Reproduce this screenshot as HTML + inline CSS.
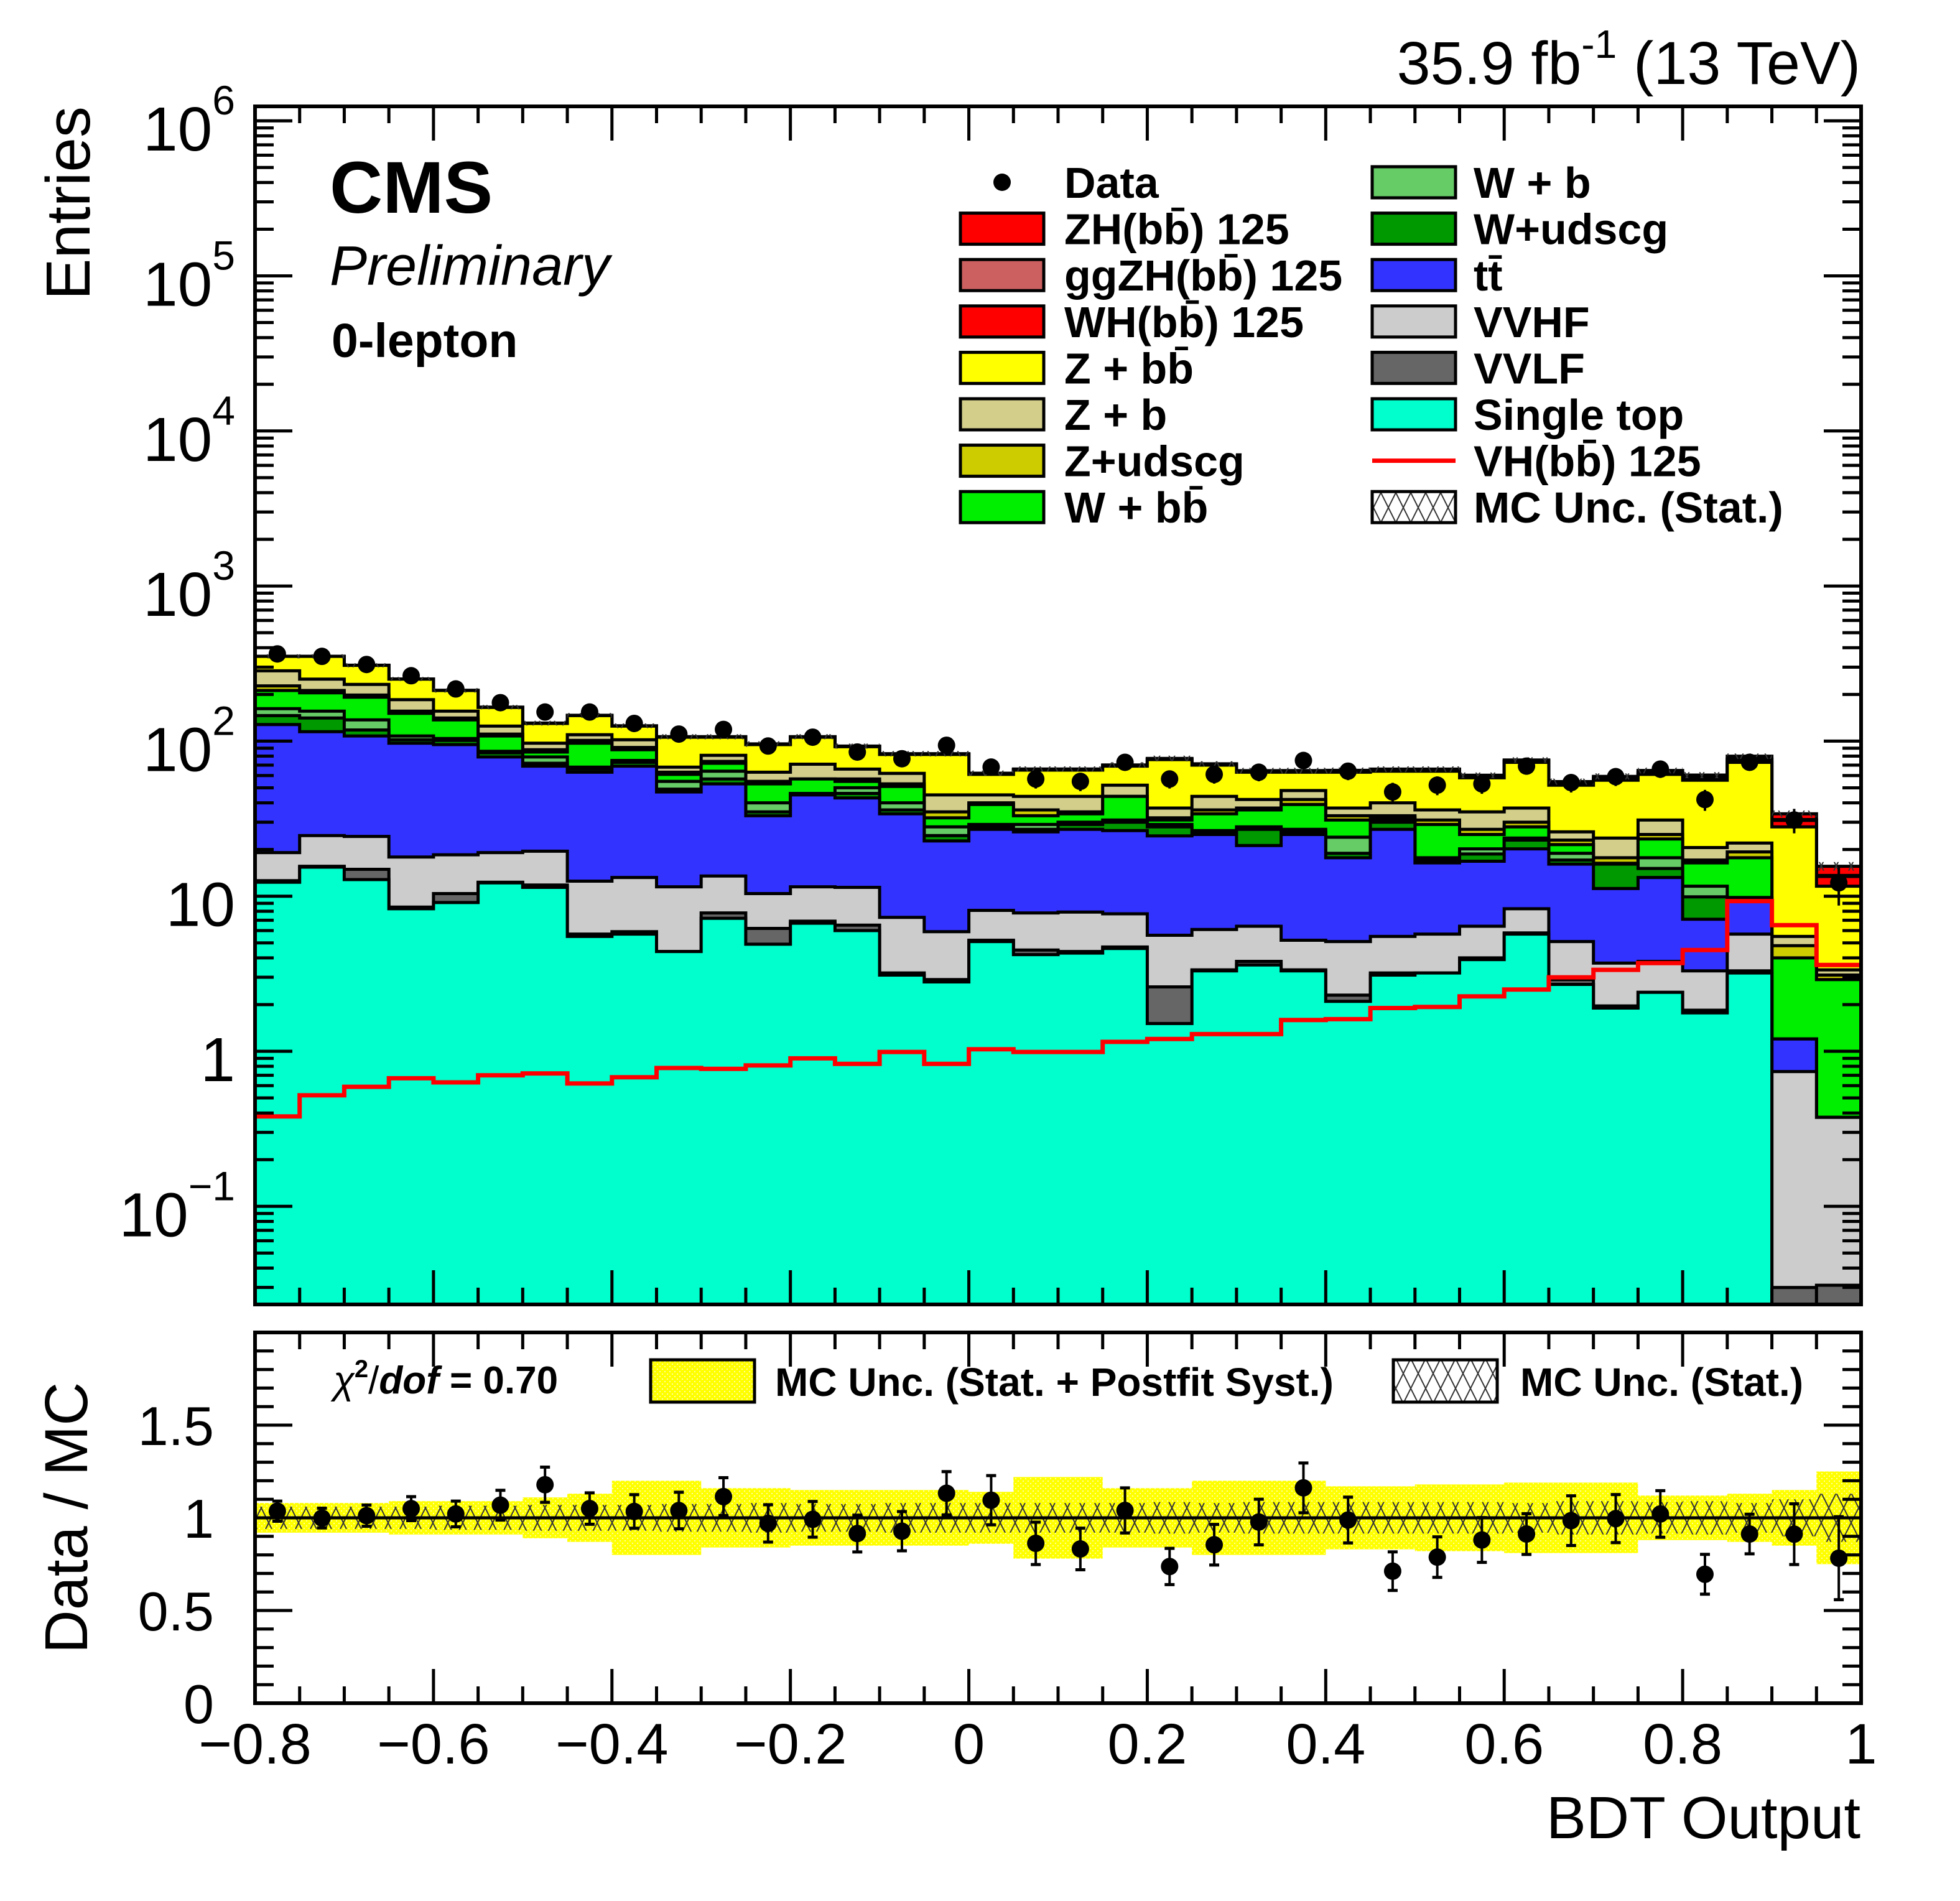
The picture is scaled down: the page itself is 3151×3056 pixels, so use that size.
<!DOCTYPE html>
<html><head><meta charset="utf-8"><title>CMS BDT Output 0-lepton</title>
<style>html,body{margin:0;padding:0;background:#fff}svg{display:block}text{font-family:"Liberation Sans",Arial,sans-serif}</style>
</head><body>
<svg id="chart" xmlns="http://www.w3.org/2000/svg" width="3151" height="3056" viewBox="0 0 3151 3056">
<defs>
<clipPath id="clipMain"><rect x="410" y="171" width="2582" height="1926"/></clipPath>
<clipPath id="clipRatio"><rect x="410" y="2142" width="2582" height="596"/></clipPath>
<pattern id="hatch" patternUnits="userSpaceOnUse" width="24" height="48">
<path d="M0,0 L24,48 M24,0 L0,48" stroke="#333" stroke-width="2" fill="none"/>
</pattern>
<pattern id="yellowDots" patternUnits="userSpaceOnUse" width="8" height="8">
<rect width="8" height="8" fill="#ffff00"/><rect x="0" y="0" width="2" height="2" fill="#ffffa0"/><rect x="4" y="4" width="2" height="2" fill="#ffffa0"/>
</pattern>
</defs>
<rect width="3151" height="3056" fill="#fff"/>
<g id="mainLayers" clip-path="url(#clipMain)"></g>
<g id="ratioLayers" clip-path="url(#clipRatio)"></g>
<g id="axes"></g>
<g id="texts">
<text x="2991" y="135" font-size="97" text-anchor="end">35.9 fb<tspan dy="-42" font-size="64">-1</tspan><tspan dy="42"> (13 TeV)</tspan></text>
<text x="530" y="342" font-size="118" font-weight="bold">CMS</text>
<text x="530" y="458" font-size="90" font-style="italic">Preliminary</text>
<text x="533" y="574" font-size="77" font-weight="bold">0-lepton</text>
<text transform="translate(144,171) rotate(-90)" font-size="100" text-anchor="end">Entries</text>
<text transform="translate(140,2440) rotate(-90)" font-size="97" text-anchor="middle">Data / MC</text>
<text x="2991" y="2955" font-size="96" text-anchor="end">BDT Output</text>
<text x="536" y="2240" font-size="62" font-weight="bold"><tspan font-weight="normal" font-style="italic">χ</tspan><tspan dy="-26" font-size="40">2</tspan><tspan dy="26" font-weight="normal">/</tspan><tspan font-style="italic">dof</tspan> = 0.70</text>
</g>
<g id="legend"></g>
</svg>
<script>
// ---- data (entries per bin, cumulative stack tops) ----
const binEdgesStart = -0.8;
const binWidth = 0.05;
const cumSingleTop = [12.3,15.4,12.8,8.3,9.1,12.2,11.4,5.5,5.7,4.4,7.2,4.9,6.7,6.0,3.1,2.8,5.1,4.2,4.3,4.6,1.51,3.3,3.6,3.3,2.1,3.1,3.2,3.9,5.7,2.7,1.9,2.4,1.77,3.2,0.001,0.001];
const cumVVLF = [12.6,15.6,14.9,8.5,10.4,12.3,11.8,5.7,5.9,4.4,7.8,6.2,6.9,6.5,3.2,2.9,5.2,4.5,4.4,4.7,2.6,3.35,3.8,3.35,2.3,3.2,3.2,4.0,5.8,2.9,1.96,2.4,1.84,3.3,0.030,0.031];
const cumVVHF = [19.1,24.6,24.3,17.9,18.5,19.1,19.5,12.5,13.2,11.5,13.5,10.4,11.5,11.4,7.3,5.9,8.1,7.8,7.9,7.7,5.6,6.1,6.4,5.2,5.1,5.5,5.7,6.4,8.3,5.1,3.7,3.8,3.3,5.7,0.74,0.375];
const cumTT = [128,115,108,97,95,79,69,63,69,47,53,33,45,43,34,22.7,27,26,27,26.5,24.5,25,21.2,25,17.7,27,16.4,16.8,20.2,16.1,11.2,13.2,7.1,9.3,1.2,0.375];
const cumWudscg = [146,141,118,102,101,84,72,66,73,49,57,35,46,46,36,24.6,28,27,29,30,28,26,27,26,18.9,30,17.1,18.7,23,17.1,16.1,15.1,9.9,9.8,1.2,0.375];
const cumWb = [162,156,137,108,104,86,79,68,75,55,64,40,46,50,40,28,29,29,30,31,29,26.5,28,27,24,31,17.7,20.2,23.7,18.9,16.1,17.7,11.6,9.8,1.2,0.375];
const cumWbb = [212,205,192,151,137,108,85,97,88,61,72,53,57,55,51,32,39,33,34,44,31,34,36,39,31,32,29,25,28,21.5,16.3,23.4,16.4,17.7,4.0,2.9];
const cumZudscg = [227,212,198,156,141,111,88,101,91,63,74,55,57,57,53,35,40,36,35,44,32,36,37,42,33,33,31,27,30,23,17.7,25,17.1,19.3,4.8,3.1];
const cumZb = [284,251,232,185,156,125,97,110,102,68,81,63,71,66,62,45,45,44,44,52,37,44,42,48,37,40,36,35,37,26,23.7,31,20.6,22,5.5,3.35];
const cumZbb = [352,352,308,251,212,165,130,146,125,106,106,95,106,92,82,82,61,65,65,69,76,70,63,63,63,64,64,58,73,52,56,61,56,73,28,11.6];
const sigWH = [0.15,0.2,0.2,0.25,0.25,0.3,0.3,0.3,0.3,0.35,0.35,0.4,0.4,0.4,0.45,0.45,0.5,0.5,0.5,0.55,0.6,0.6,0.65,0.7,0.8,0.9,0.9,1.0,1.2,1.3,1.5,1.7,2.0,3.2,2.8,1.8];
const sigGGZH = [0.02,0.02,0.02,0.03,0.03,0.03,0.03,0.03,0.03,0.04,0.04,0.04,0.04,0.04,0.05,0.05,0.05,0.05,0.05,0.06,0.06,0.06,0.07,0.07,0.08,0.09,0.09,0.1,0.12,0.13,0.15,0.17,0.2,0.4,0.4,0.2];
const sigZH = [0.2,0.25,0.25,0.3,0.3,0.35,0.35,0.35,0.35,0.4,0.4,0.45,0.45,0.45,0.5,0.5,0.55,0.55,0.55,0.6,0.65,0.7,0.75,0.8,0.9,1.0,1.0,1.1,1.3,1.4,1.6,1.8,2.2,3.4,2.8,2.0];
const vhLine = [0.38,0.52,0.59,0.67,0.63,0.70,0.72,0.62,0.68,0.78,0.77,0.81,0.90,0.83,0.99,0.83,1.03,0.99,0.99,1.15,1.2,1.29,1.29,1.59,1.61,1.9,1.93,2.26,2.5,3.0,3.35,3.7,4.5,9.3,6.5,3.6];
const dataCounts = [365,352,312,264,217,177,154,154,130,111,119,93,106,85,77,94,68,57,55,73,57,61,63,75,64,47,52,53,69,54,59,66,42,73,31,12.2];
const systBand = [0.08,0.08,0.08,0.09,0.09,0.09,0.11,0.13,0.2,0.2,0.16,0.16,0.15,0.15,0.15,0.15,0.14,0.22,0.22,0.16,0.16,0.2,0.2,0.2,0.17,0.17,0.18,0.18,0.19,0.19,0.19,0.12,0.12,0.13,0.15,0.25];
const statBand = [0.06,0.06,0.06,0.06,0.065,0.065,0.07,0.07,0.07,0.075,0.075,0.08,0.075,0.075,0.08,0.08,0.08,0.08,0.08,0.08,0.085,0.08,0.085,0.085,0.085,0.085,0.085,0.085,0.08,0.09,0.09,0.085,0.09,0.08,0.1,0.13];
const xTickLabels = ["\u22120.8","\u22120.6","\u22120.4","\u22120.2","0","0.2","0.4","0.6","0.8","1"];
const xTickValues = [-0.8,-0.6,-0.4,-0.2,0,0.2,0.4,0.6,0.8,1.0];
const yLogExps = [-1,0,1,2,3,4,5,6];
const ratioTickValues = [0,0.5,1,1.5];
const ratioTickLabels = ["0","0.5","1","1.5"];

// ---- axes ----
const NS = "http://www.w3.org/2000/svg";
const X0 = 410, X1 = 2992, XMIN = -0.8, XMAX = 1.0;
const MY_TOP = 171, MY_BOT = 2097, LOG_ONE = 1690, DECADE = 249.3;
const RY_TOP = 2142, RY_BOT = 2738, RMAX = 2.0;
function xs(v){ return X0 + (v - XMIN) / (XMAX - XMIN) * (X1 - X0); }
function ys(v){ if (v <= 0) return MY_BOT + 50; const y = LOG_ONE - DECADE * Math.log10(v); return Math.min(y, MY_BOT + 50); }
function yr(r){ return RY_BOT - r / RMAX * (RY_BOT - RY_TOP); }
function mk(tag, attrs, parent){ const e = document.createElementNS(NS, tag); for (const k in attrs) e.setAttribute(k, attrs[k]); parent.appendChild(e); return e; }
const nb = dataCounts.length;
function edge(i){ return binEdgesStart + i * binWidth; }

const gMain = document.getElementById('mainLayers');
const gRatio = document.getElementById('ratioLayers');
const gAxes = document.getElementById('axes');
const gLeg = document.getElementById('legend');

const cumWH = cumZbb.map((v,i)=> v + sigWH[i]);
const cumGGZH = cumWH.map((v,i)=> v + sigGGZH[i]);
const cumZH = cumGGZH.map((v,i)=> v + sigZH[i]);

const layers = [
  ['stack-zh', cumZH, '#ff0000'],
  ['stack-ggzh', cumGGZH, '#cc6060'],
  ['stack-wh', cumWH, '#ff0000'],
  ['stack-z-bb', cumZbb, '#ffff00'],
  ['stack-z-b', cumZb, '#d3cf8b'],
  ['stack-z-udscg', cumZudscg, '#cccc00'],
  ['stack-w-bb', cumWbb, '#00ee00'],
  ['stack-w-b', cumWb, '#66cc66'],
  ['stack-w-udscg', cumWudscg, '#009900'],
  ['stack-ttbar', cumTT, '#3333ff'],
  ['stack-vvhf', cumVVHF, '#cccccc'],
  ['stack-vvlf', cumVVLF, '#666666'],
  ['stack-single-top', cumSingleTop, '#00ffcc']
];
function stepPts(arr){
  let p = [];
  for (let i=0;i<nb;i++){ const y = ys(arr[i]); p.push(xs(edge(i)).toFixed(1)+','+y.toFixed(1)); p.push(xs(edge(i+1)).toFixed(1)+','+y.toFixed(1)); }
  return p;
}
layers.forEach(([name, arr, col])=>{
  const pts = stepPts(arr);
  const poly = mk('polygon', {points: xs(XMIN)+','+(MY_BOT+50)+' '+pts.join(' ')+' '+xs(XMAX)+','+(MY_BOT+50), fill: col, stroke: 'none'}, gMain);
  
  
  const line = mk('polyline', {points: pts.join(' '), fill: 'none', stroke: '#000', 'stroke-width': 5}, gMain);
  
  
});
for (let i=0;i<nb;i++){
  const t = cumZH[i], s = statBand[i]*0.5;
  const r = mk('rect', {x: xs(edge(i)), y: ys(t*(1+s)), width: xs(edge(i+1))-xs(edge(i)), height: ys(t*(1-s))-ys(t*(1+s)), fill: 'url(#hatch)'}, gMain);
  
  
}
{
  const l = mk('polyline', {points: stepPts(vhLine).join(' '), fill: 'none', stroke: '#ff0000', 'stroke-width': 7}, gMain);
  
  
}
for (let i=0;i<nb;i++){
  const cx = xs(edge(i) + binWidth/2), n = dataCounts[i], e = Math.sqrt(n);
  const eb = mk('line', {x1: cx, x2: cx, y1: ys(n+e), y2: ys(Math.max(n-e,1e-3)), stroke: '#000', 'stroke-width': 4}, gMain);
  
  
  const c = mk('circle', {cx: cx, cy: ys(n), r: 14, fill: '#000'}, gMain);
  
  
}
// ratio panel
for (let i=0;i<nb;i++){
  const xa = xs(edge(i)), w = xs(edge(i+1)) - xa;
  const y1 = mk('rect', {x: xa, y: yr(1+systBand[i]), width: w, height: yr(1-systBand[i]) - yr(1+systBand[i]), fill: 'url(#yellowDots)'}, gRatio);
  
  
}
for (let i=0;i<nb;i++){
  const xa = xs(edge(i)), w = xs(edge(i+1)) - xa;
  const h = mk('rect', {x: xa, y: yr(1+statBand[i]), width: w, height: yr(1-statBand[i]) - yr(1+statBand[i]), fill: 'url(#hatch)'}, gRatio);
  
  
}
{
  const one = mk('line', {x1: X0, x2: X1, y1: yr(1), y2: yr(1), stroke: '#000', 'stroke-width': 5}, gRatio);
  
  
}
for (let i=0;i<nb;i++){
  const cx = xs(edge(i) + binWidth/2), mc = cumZH[i], r = dataCounts[i]/mc, e = Math.sqrt(dataCounts[i])/mc;
  const eb = mk('line', {x1: cx, x2: cx, y1: yr(r+e), y2: yr(r-e), stroke: '#000', 'stroke-width': 4}, gRatio);
  
  
  [r+e, r-e].forEach(v=>{
    const cap = mk('line', {x1: cx-8, x2: cx+8, y1: yr(v), y2: yr(v), stroke: '#000', 'stroke-width': 5}, gRatio);
    
    
  });
  const c = mk('circle', {cx: cx, cy: yr(r), r: 14, fill: '#000'}, gRatio);
  
  
}

function tick(x1,y1,x2,y2,name){ const t = mk('line', {x1:x1,y1:y1,x2:x2,y2:y2,stroke:'#000','stroke-width':5}, gAxes);   }
[[MY_TOP, MY_BOT, 'main-frame'], [RY_TOP, RY_BOT, 'ratio-frame']].forEach(([t,b,nm])=>{
  const f = mk('rect', {x: X0, y: t, width: X1-X0, height: b-t, fill: 'none', stroke: '#000', 'stroke-width': 6}, gAxes);
  
  
  for (let k=0;k<=36;k++){
    const v = edge(k), x = xs(v);
    const major = Math.abs(Math.round(v*5) - v*5) < 1e-6;
    const L = major ? 55 : 27;
    tick(x, b, x, b-L, 'x-tick');
    tick(x, t, x, t+L, 'x-tick-top');
  }
});
for (let e=-2;e<=6;e++){
  for (let m=1;m<=9;m++){
    const v = m*Math.pow(10,e), y = ys(v);
    if (y < MY_TOP || y > MY_BOT) continue;
    const L = m===1 ? 60 : 30;
    tick(X0, y, X0+L, y, 'y-tick');
    tick(X1, y, X1-L, y, 'y-tick-right');
  }
}
yLogExps.forEach(e=>{
  const y = ys(Math.pow(10,e));
  const t = mk('text', {x: 378, y: y+48, 'font-size': 100, 'text-anchor': 'end'}, gAxes);
  
  
  if (e===0) t.textContent = '1';
  else if (e===1) t.textContent = '10';
  else { t.textContent = '10'; const s = mk('tspan', {dy: -58, 'font-size': 66}, t); s.textContent = e<0 ? '\u2212' + (-e) : String(e); }
});
for (let k=0;k<=20;k++){
  const v = k*0.1, y = yr(v);
  if (y < RY_TOP || y > RY_BOT) continue;
  const L = (k%5===0) ? 60 : 30;
  tick(X0, y, X0+L, y, 'ratio-y-tick');
  tick(X1, y, X1-L, y, 'ratio-y-tick-right');
}
ratioTickValues.forEach((v,i)=>{
  const t = mk('text', {x: 344, y: yr(v)+32, 'font-size': 88, 'text-anchor': 'end'}, gAxes);
  
  
  t.textContent = ratioTickLabels[i];
});
xTickValues.forEach((v,i)=>{
  const t = mk('text', {x: xs(v), y: 2835, 'font-size': 92, 'text-anchor': 'middle'}, gAxes);
  
  
  t.textContent = xTickLabels[i];
});

const legCol1 = [['Data','marker',null],['ZH(bb\u0304) 125','box','#ff0000'],['ggZH(bb\u0304) 125','box','#cc6060'],['WH(bb\u0304) 125','box','#ff0000'],['Z + bb\u0304','box','#ffff00'],['Z + b','box','#d3cf8b'],['Z+udscg','box','#cccc00'],['W + bb\u0304','box','#00ee00']];
const legCol2 = [['W + b','box','#66cc66'],['W+udscg','box','#009900'],['tt\u0304','box','#3333ff'],['VVHF','box','#cccccc'],['VVLF','box','#666666'],['Single top','box','#00ffcc'],['VH(bb\u0304) 125','line','#ff0000'],['MC Unc. (Stat.)','box','url(#hatch)']];
function legendCol(items, bx, tx){
  items.forEach(([lab,type,col],k)=>{
    const cy = 293 + 74.6*k;
    const g = mk('g', {}, gLeg);
    
    
    if (type==='box') mk('rect', {x: bx, y: cy-25, width: 134, height: 50, fill: col, stroke: '#000', 'stroke-width': 5}, g);
    else if (type==='line') mk('line', {x1: bx, x2: bx+134, y1: cy, y2: cy, stroke: col, 'stroke-width': 7}, g);
    else mk('circle', {cx: bx+67, cy: cy, r: 14, fill: '#000'}, g);
    const t = mk('text', {x: tx, y: cy+25, 'font-size': 70, 'font-weight': 'bold'}, g);
    t.textContent = lab;
  });
}
legendCol(legCol1, 1544, 1711);
legendCol(legCol2, 2206, 2369);
{
  const g1 = mk('g', {}, gLeg);
  
  
  mk('rect', {x: 1046, y: 2186, width: 167, height: 68, fill: 'url(#yellowDots)', stroke: '#000', 'stroke-width': 5}, g1);
  const t1 = mk('text', {x: 1246, y: 2244, 'font-size': 64, 'font-weight': 'bold'}, g1);
  t1.textContent = 'MC Unc. (Stat. + Postfit Syst.)';
  const g2 = mk('g', {}, gLeg);
  
  
  mk('rect', {x: 2240, y: 2186, width: 167, height: 68, fill: 'url(#hatch)', stroke: '#000', 'stroke-width': 5}, g2);
  const t2 = mk('text', {x: 2444, y: 2244, 'font-size': 64, 'font-weight': 'bold'}, g2);
  t2.textContent = 'MC Unc. (Stat.)';
}
</script>
</body></html>
